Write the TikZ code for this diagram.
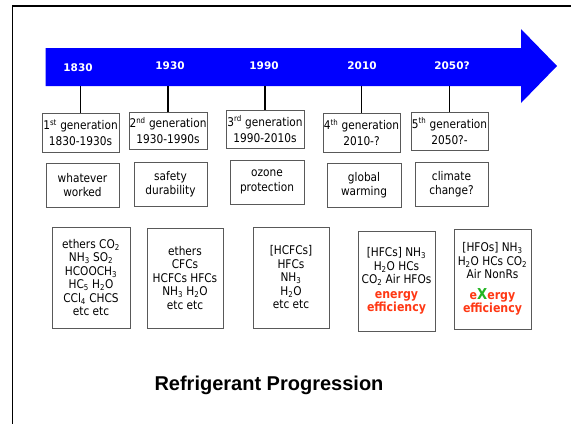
\documentclass[tikz,border=0pt]{standalone}
\usepackage{fontspec}
\setmainfont{DejaVu Sans}[FakeStretch=0.88]
\newfontfamily\yearfont{DejaVu Sans}
\newfontfamily\titlefont{Liberation Sans}
\definecolor{arrowblue}{RGB}{0,0,255}
\definecolor{effred}{RGB}{255,56,20}
\definecolor{exgreen}{RGB}{34,180,34}
\newcommand{\chsub}[1]{\textsubscript{#1}}
\newcommand{\gensup}[1]{\textsuperscript{#1}}
\begin{document}
\begin{tikzpicture}[x=1pt,y=-1pt,
  framebox/.style={draw=black!65, line width=0.9pt, align=center, inner sep=0pt},
  genbox/.style={framebox, minimum width=77pt, minimum height=38pt, font=\fontsize{12}{16}\selectfont},
  aimbox/.style={framebox, minimum width=73pt, minimum height=44pt, font=\fontsize{12}{14.5}\selectfont},
  listbox/.style={framebox, minimum width=77pt, minimum height=100pt, font=\fontsize{12}{13.5}\selectfont},
  year/.style={text=white, font=\yearfont\bfseries\fontsize{10.5}{12}\selectfont},
  link/.style={line width=1.4pt, black},
  hot/.style={text=effred, font=\bfseries\fontsize{12.5}{15}\selectfont}]
\useasboundingbox (0,0) rectangle (571,424);
\fill[white] (0,0) rectangle (571,424);

% slide frame (top and left edges)
\draw[line width=1.6pt] (571,6) -- (12.5,6) -- (12.5,424);

% timeline arrow
\fill[arrowblue] (45.5,48) -- (521,48) -- (521,29) -- (557,66) -- (521,103)
  -- (521,86) -- (45.5,86) -- cycle;
\coordinate (barbot) at (0,86);

% years on the arrow
\node[year] (y1) at (78,68) {1830};
\node[year] (y2) at (170,66) {1930};
\node[year] (y3) at (264,66) {1990};
\node[year] (y4) at (362,66) {2010};
\node[year] (y5) at (452,66) {2050?};

% generation boxes
\node[genbox, minimum height=39pt] (g1) at (80.5,132.5) {1\gensup{st} generation\\1830-1930s};
\node[genbox, minimum width=78pt, minimum height=37pt] (g2) at (168,130.5) {2\gensup{nd} generation\\1930-1990s};
\node[genbox, minimum width=78pt] (g3) at (265,129) {3\gensup{rd} generation\\1990-2010s};
\node[genbox, minimum height=39pt] (g4) at (361.5,132.5) {4\gensup{th} generation\\2010-?};
\node[genbox] (g5) at (449.5,131) {5\gensup{th} generation\\2050?-};

% links from the timeline to each generation
\foreach \g in {g1,g2,g3,g4,g5}
  \draw[link] (\g.north) -- (\g.north |- barbot);

% driving concern of each generation
\node[aimbox] (a1) at (82.5,185) {whatever\\worked};
\node[aimbox] (a2) at (170.5,184) {safety\\durability};
\node[aimbox, minimum width=74pt] (a3) at (267,182) {ozone\\protection};
\node[aimbox, minimum width=74pt] (a4) at (364,185) {global\\warming};
\node[aimbox] (a5) at (451.5,184) {climate\\change?};

% refrigerants of each generation
\node[listbox, minimum width=78pt, minimum height=101pt] (r1) at (91,277.5)
  {ethers CO\chsub{2}\\NH\chsub{3} SO\chsub{2}\\HCOOCH\chsub{3}\\HC\chsub{5} H\chsub{2}O\\CCl\chsub{4} CHCS\\etc etc};
\node[listbox, minimum width=76pt] (r2) at (185,278)
  {ethers\\CFCs\\HCFCs HFCs\\NH\chsub{3} H\chsub{2}O\\etc etc};
\node[listbox, minimum width=76pt, minimum height=101pt] (r3) at (291,277.5)
  {[HCFCs]\\HFCs\\NH\chsub{3}\\H\chsub{2}O\\etc etc};
\node[listbox] (r4) at (396.5,281)
  {[HFCs] NH\chsub{3}\\H\chsub{2}O HCs\\CO\chsub{2} Air HFOs\\[1pt]
   {\color{effred}\bfseries\fontsize{12.5}{15}\selectfont energy}\\
   {\color{effred}\bfseries\fontsize{12.5}{15}\selectfont efficiency}};
\node[listbox] (r5) at (492.5,279)
  {[HFOs] NH\chsub{3}\\H\chsub{2}O HCs CO\chsub{2}\\Air NonRs\\[7pt]
   {\color{effred}\bfseries\fontsize{12.5}{15}\selectfont e{\color{exgreen}\fontsize{15}{15}\selectfont X}ergy}\\
   {\color{effred}\bfseries\fontsize{12.5}{15}\selectfont efficiency}};

% caption
\node[font=\titlefont\bfseries\fontsize{20}{24}\selectfont] (title) at (269,385) {Refrigerant Progression};
\end{tikzpicture}
\end{document}
